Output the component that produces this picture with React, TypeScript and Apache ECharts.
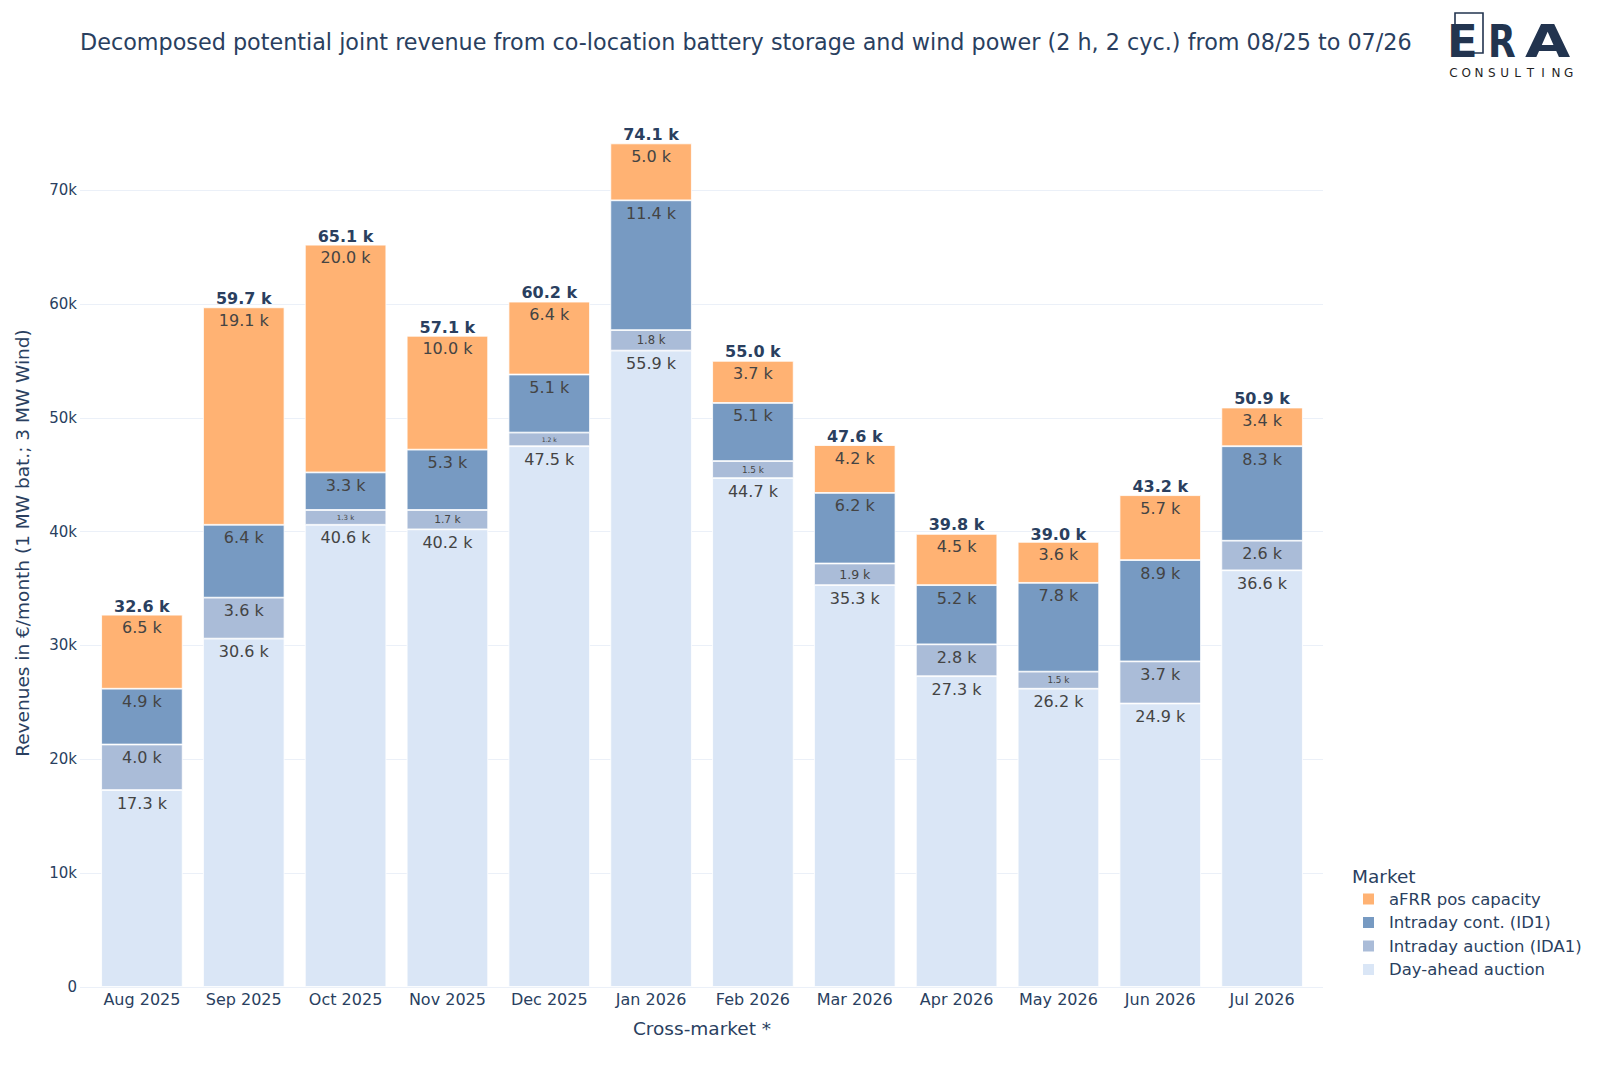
import React, { useEffect, useRef } from "react";
import * as echarts from "echarts";

const months = [
  "Aug 2025", "Sep 2025", "Oct 2025", "Nov 2025", "Dec 2025", "Jan 2026",
  "Feb 2026", "Mar 2026", "Apr 2026", "May 2026", "Jun 2026", "Jul 2026",
];
const dayAhead = [17300, 30600, 40600, 40200, 47500, 55900, 44700, 35300, 27300, 26200, 24900, 36600];
const intradayAuction = [4000, 3600, 1300, 1700, 1200, 1800, 1500, 1900, 2800, 1500, 3700, 2600];
const intradayCont = [4900, 6400, 3300, 5300, 5100, 11400, 5100, 6200, 5200, 7800, 8900, 8300];
const afrrPos = [6500, 19100, 20000, 10000, 6400, 5000, 3700, 4200, 4500, 3600, 5700, 3400];
const totals = [32600, 59700, 65100, 57100, 60200, 74100, 55000, 47600, 39800, 39000, 43200, 50900];

const seriesNames = [
  "Day-ahead auction",
  "Intraday auction (IDA1)",
  "Intraday cont. (ID1)",
  "aFRR pos capacity",
];
const seriesColors = ["#DAE6F6", "#AABCD8", "#779AC2", "#FFB273"];
const legendOrder = [
  "aFRR pos capacity",
  "Intraday cont. (ID1)",
  "Intraday auction (IDA1)",
  "Day-ahead auction",
];

const FONT = "'DejaVu Sans', Verdana, sans-serif";
const NAVY = "#2a3f5f";
const LOGO = "#22344f";
const GRIDC = "#EBF0F8";

export default function App() {
  const ref = useRef<HTMLDivElement>(null);

  useEffect(() => {
    const chart = echarts.init(ref.current!, null, { renderer: "svg" });

    const Y_MAX = 78000;
    const GRID_TOP = 99;
    const BASE_Y = 987;
    const pxPerUnit = (BASE_Y - GRID_TOP) / Y_MAX;
    const Y70_TOP = BASE_Y - 70000 * pxPerUnit;

    const segSeries = (name: string, color: string, values: number[]) => ({
      name,
      type: "bar",
      stack: "rev",
      xAxisIndex: 0,
      yAxisIndex: 0,
      barCategoryGap: "20%",
      itemStyle: { color, borderColor: "#ffffff", borderWidth: 0.8 },
      label: {
        show: true,
        color: "#444444",
        fontFamily: FONT,
        formatter: (p: any) => (p.value / 1000).toFixed(1) + " k",
      },
      data: values.map((v) => {
        const h = v * pxPerUnit;
        if (h >= 26) {
          return { value: v, label: { position: "insideTop", distance: 5, fontSize: 16 } };
        }
        return { value: v, label: { position: "inside", fontSize: Math.max(5, 0.8 * (h - 6)) } };
      }),
    });

    const values = [dayAhead, intradayAuction, intradayCont, afrrPos];
    const series: any[] = values.map((vals, i) => segSeries(seriesNames[i], seriesColors[i], vals));
    series.push({
      name: "Total",
      type: "scatter",
      xAxisIndex: 0,
      yAxisIndex: 0,
      symbolSize: 0,
      data: totals,
      z: 5,
      itemStyle: { opacity: 1 },
      label: {
        show: true,
        position: "top",
        distance: 1,
        color: NAVY,
        fontFamily: FONT,
        fontWeight: "bold",
        fontSize: 16,
        formatter: (p: any) => (p.value / 1000).toFixed(1) + " k",
      },
    });

    const consulting = "CONSULTING".split("").map((ch, i) => ({
      type: "text",
      x: 1453.5 + i * 12.8,
      y: 73,
      style: {
        text: ch,
        fill: "#1f1f1f",
        font: `normal 12px ${FONT}`,
        textAlign: "center",
        textVerticalAlign: "middle",
      },
    }));

    chart.setOption({
      animation: false,
      backgroundColor: "#ffffff",
      title: {
        text: "Decomposed potential joint revenue from co-location battery storage and wind power (2 h, 2 cyc.) from 08/25 to 07/26",
        left: 80,
        top: 30,
        padding: 0,
        textStyle: { color: NAVY, fontSize: 22.3, fontWeight: "normal", fontFamily: FONT, lineHeight: 24 },
      },
      legend: {
        data: legendOrder,
        orient: "vertical",
        left: 1363,
        top: 890,
        padding: 0,
        itemWidth: 11,
        itemHeight: 11,
        itemGap: 5.5,
        icon: "rect",
        itemStyle: { borderWidth: 0 },
        textStyle: { color: NAVY, fontSize: 16.5, fontFamily: FONT, lineHeight: 18, padding: [0, 0, 0, 10] },
      },
      grid: [
        { left: 91, right: 1600 - 1313, top: GRID_TOP, bottom: 1067 - BASE_Y },
        { left: 80, right: 1600 - 1323, top: Y70_TOP, bottom: 1067 - BASE_Y },
      ],
      xAxis: [
        {
          type: "category",
          gridIndex: 0,
          data: months,
          axisLine: { show: false },
          axisTick: { show: false },
          axisLabel: { color: NAVY, fontSize: 16, fontFamily: FONT, margin: 4, interval: 0 },
        },
        { type: "value", gridIndex: 1, min: 0, max: 1, show: false },
      ],
      yAxis: [
        { type: "value", gridIndex: 0, min: 0, max: Y_MAX, show: false },
        {
          type: "value",
          gridIndex: 1,
          min: 0,
          max: 70000,
          interval: 10000,
          axisLine: { show: false },
          axisTick: { show: false },
          splitLine: { show: true, lineStyle: { color: GRIDC, width: 1 } },
          axisLabel: {
            color: NAVY,
            fontSize: 15,
            fontFamily: FONT,
            margin: 3,
            formatter: (v: number) => (v === 0 ? "0" : v / 1000 + "k"),
          },
        },
      ],
      series,
      graphic: [
        {
          type: "text",
          x: 22.5,
          y: (GRID_TOP + BASE_Y) / 2,
          rotation: Math.PI / 2,
          style: {
            text: "Revenues in €/month (1 MW bat.; 3 MW Wind)",
            fill: NAVY,
            font: `normal 18.5px ${FONT}`,
            textAlign: "center",
            textVerticalAlign: "middle",
          },
        },
        {
          type: "text",
          x: (91 + 1313) / 2,
          y: 1028,
          style: {
            text: "Cross-market *",
            fill: NAVY,
            font: `normal 18.5px ${FONT}`,
            textAlign: "center",
            textVerticalAlign: "middle",
          },
        },
        {
          type: "text",
          x: 1352,
          y: 876,
          style: {
            text: "Market",
            fill: NAVY,
            font: `normal 18.5px ${FONT}`,
            textAlign: "left",
            textVerticalAlign: "middle",
          },
        },
        {
          type: "rect",
          shape: { x: 1455, y: 13, width: 28, height: 40 },
          style: { fill: "none", stroke: LOGO, lineWidth: 1.6 },
        },
        {
          type: "text",
          x: 1447,
          y: 41.5,
          style: { text: "E", fill: LOGO, font: `900 45px ${FONT}`, textAlign: "left", textVerticalAlign: "middle" },
        },
        {
          type: "text",
          x: 1488,
          y: 41.5,
          scaleX: 0.8,
          style: { text: "R", fill: LOGO, font: `900 45px ${FONT}`, textAlign: "left", textVerticalAlign: "middle" },
        },
        {
          type: "text",
          x: 1525,
          y: 41.5,
          scaleX: 1.3,
          style: { text: "A", fill: LOGO, font: `900 45px ${FONT}`, textAlign: "left", textVerticalAlign: "middle" },
        },
        ...consulting,
      ],
    });

    return () => chart.dispose();
  }, []);

  return (
    <div
      ref={ref}
      style={{ position: "absolute", left: 0, top: 0, width: 1600, height: 1067, background: "#fff" }}
    />
  );
}
